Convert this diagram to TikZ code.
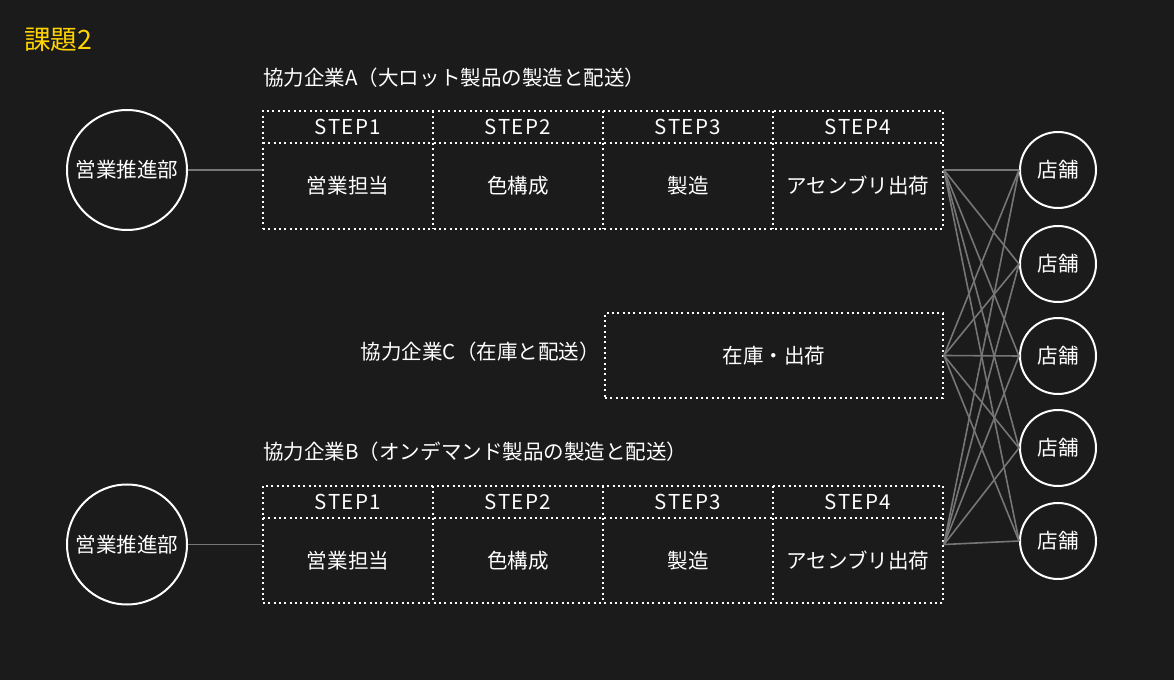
\documentclass[tikz,border=0pt]{standalone}
\usepackage{fontspec}
\setmainfont{Noto Sans CJK JP}
\newfontfamily\stepfont[LetterSpace=7]{Noto Sans CJK JP}
\usetikzlibrary{positioning}
\definecolor{bgdark}{RGB}{27,27,27}
\definecolor{titleyellow}{RGB}{255,212,0}
\definecolor{linkgray}{RGB}{118,118,118}

\tikzset{
  every node/.style={text=white, font=\fontsize{15.4}{18}\selectfont, inner sep=0pt},
  dotline/.style={draw=white, line width=1.4pt, dash pattern=on 1.5pt off 2.5pt},
  dotbox/.style={dotline, minimum width=510pt},
  shop/.style={circle, draw=white, line width=1.5pt, minimum size=57pt},
  dept/.style={circle, draw=white, line width=1.5pt, minimum size=90pt},
  link/.style={draw=linkgray, line width=1.2pt},
  steplabel/.style={font=\stepfont\fontsize{15.4}{18}\selectfont}
}

\begin{document}
\begin{tikzpicture}[x=0.75pt,y=-0.75pt]
\fill[bgdark] (0,0) rectangle (1174,680);

% title
\node[anchor=west, text=titleyellow, font=\fontsize{20}{24}\selectfont] (title) at (24,40) {課題2};

% company A
\node[anchor=west] (labelA) at (263,78) {協力企業A（大ロット製品の製造と配送）};
\node[dotbox, minimum height=88.5pt] (boxA) at (603,170) {};
\draw[dotline] (263,143) -- (943,143);
\foreach \x in {433,603,773} {
    \draw[dotline] (\x,111) -- (\x,229);
}
\foreach \n/\x in {1/348,2/518,3/688,4/858} {
    \node[steplabel] (stepA\n) at (\x,127) {STEP\n};
}
\node (workA1) at (348,186) {営業担当};
\node (workA2) at (518,186) {色構成};
\node (workA3) at (688,186) {製造};
\node (workA4) at (858,186) {アセンブリ出荷};

% company C
\node[anchor=east] (labelC) at (600,352) {協力企業C（在庫と配送）};
\node[dotline, minimum width=253.5pt, minimum height=63.75pt] (boxC) at (774,355.5) {在庫・出荷};

% company B
\node[anchor=west] (labelB) at (263,452) {協力企業B（オンデマンド製品の製造と配送）};
\node[dotbox, minimum height=87.75pt] (boxB) at (603,544.5) {};
\draw[dotline] (263,518) -- (943,518);
\foreach \x in {433,603,773} {
    \draw[dotline] (\x,486) -- (\x,603);
}
\foreach \n/\x in {1/348,2/518,3/688,4/858} {
    \node[steplabel] (stepB\n) at (\x,502) {STEP\n};
}
\node (workB1) at (348,560.5) {営業担当};
\node (workB2) at (518,560.5) {色構成};
\node (workB3) at (688,560.5) {製造};
\node (workB4) at (858,560.5) {アセンブリ出荷};

% sales departments
\node[dept] (salesA) at (127,170) {営業推進部};
\node[dept] (salesB) at (127,544.5) {営業推進部};
\draw[link] (salesA) -- (boxA.west);
\draw[link] (salesB) -- (boxB.west);

% stores
\foreach \i/\y in {1/170,2/264,3/356,4/448,5/541} {
    \node[shop] (store\i) at (1058,\y) {店舗};
}
\foreach \s in {A,C,B} {
    \foreach \i in {1,...,5} {
        \draw[link] (box\s.east) -- (store\i.west);
    }
}
\end{tikzpicture}
\end{document}
